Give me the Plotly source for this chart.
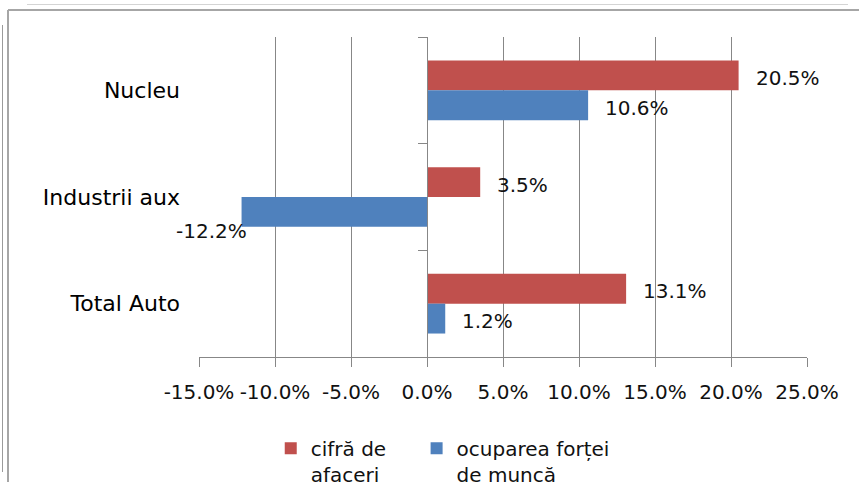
import plotly.graph_objects as go

categories = ["Nucleu", "Industrii aux", "Total Auto"]
cifra_afaceri = [20.5, 3.5, 13.1]
ocuparea_fortei = [10.6, -12.2, 1.2]
series_names = ["cifră de" + "\u00a0" * 4 + "<br>afaceri", "ocuparea forței<br>de muncă"]
x_tick_vals = [-15, -10, -5, 0, 5, 10, 15, 20, 25]
x_tick_labels = ["-15.0%", "-10.0%", "-5.0%", "0.0%", "5.0%", "10.0%", "15.0%", "20.0%", "25.0%"]

RED = "#C0504D"
BLUE = "#4F81BD"
GRID = "#878787"
FONT = "DejaVu Sans"
BARGAP = 0.44

fig = go.Figure()
series = [(series_names[0], cifra_afaceri, RED), (series_names[1], ocuparea_fortei, BLUE)]
for name, vals, col in series:
    fig.add_trace(go.Bar(
        name=name, y=categories, x=vals, orientation="h",
        marker=dict(color=col, line=dict(width=0)),
        hoverinfo="skip",
    ))

# invisible trace to carry the zero-position axis
fig.add_trace(go.Scatter(x=[0], y=[0], yaxis="y2", mode="markers",
                         marker=dict(opacity=0), showlegend=False, hoverinfo="skip"))

# data labels
half = (1 - BARGAP) / 4
annotations = []
for ti, (name, vals, col) in enumerate(series):
    off = -half if ti == 0 else half
    for j, v in enumerate(vals):
        txt = f"{v:.1f}%"
        if v >= 0:
            annotations.append(dict(x=v, y=j + off, xref="x", yref="y", text=txt,
                                    showarrow=False, xanchor="left", xshift=15, yshift=-2.5,
                                    font=dict(family=FONT, size=20, color="#111111")))
        else:
            annotations.append(dict(x=v, y=j + off, xref="x", yref="y", text=txt,
                                    showarrow=False, xanchor="right", xshift=7, yshift=-19,
                                    font=dict(family=FONT, size=20, color="#111111")))

shapes = [
    # outer chart border (left & top)
    dict(type="line", xref="paper", yref="paper",
         x0=(8 - 199) / 608, x1=(8 - 199) / 608, y0=(357 - 10) / 320, y1=(357 - 490) / 320,
         line=dict(color="#a6a6a6", width=2)),
    dict(type="line", xref="paper", yref="paper",
         x0=(8 - 199) / 608, x1=(870 - 199) / 608, y0=(357 - 10) / 320, y1=(357 - 10) / 320,
         line=dict(color="#a6a6a6", width=2)),
    # faint page lines
    dict(type="line", xref="paper", yref="paper",
         x0=(27 - 199) / 608, x1=(848 - 199) / 608, y0=(357 - 4.5) / 320, y1=(357 - 4.5) / 320,
         line=dict(color="#d4d4d4", width=1)),
    dict(type="line", xref="paper", yref="paper",
         x0=(2.5 - 199) / 608, x1=(2.5 - 199) / 608, y0=(357 - 25) / 320, y1=(357 - 472) / 320,
         line=dict(color="#9a9a9a", width=1)),
]

fig.update_layout(
    width=859, height=482,
    margin=dict(l=199, r=52, t=37, b=125, autoexpand=False),
    paper_bgcolor="white", plot_bgcolor="white",
    barmode="group", bargap=BARGAP, bargroupgap=0,
    font=dict(family=FONT, size=20, color="#000000"),
    xaxis=dict(range=[-15, 25], tickvals=x_tick_vals, ticktext=x_tick_labels,
               showgrid=True, gridcolor=GRID, gridwidth=1.3,
               zeroline=False, showline=True, linecolor=GRID, linewidth=1.3,
               ticks="outside", ticklen=9, tickcolor=GRID, tickwidth=1.3,
               ticklabelstandoff=8,
               tickfont=dict(family=FONT, size=20, color="#111111")),
    yaxis=dict(type="category", categoryorder="array", categoryarray=categories,
               range=[2.5, -0.5], showgrid=False, zeroline=False, showline=False,
               ticks="", ticklabelstandoff=18,
               tickfont=dict(family=FONT, size=22, color="#000000")),
    yaxis2=dict(overlaying="y", anchor="free", position=0.375, side="left",
                range=[2.5, -0.5], tickvals=[-0.5, 0.5, 1.5, 2.5],
                showticklabels=False, showgrid=False, zeroline=False,
                showline=True, linecolor=GRID, linewidth=1.3,
                ticks="outside", ticklen=9, tickcolor=GRID, tickwidth=1.3),
    legend=dict(orientation="h", x=0.118, xanchor="left", y=-0.224, yanchor="top",
                valign="top", itemwidth=30, traceorder="normal",
                font=dict(family=FONT, size=20, color="#111111")),
    annotations=annotations,
    shapes=shapes,
    showlegend=True,
)

fig.write_html("out.html", config={"displayModeBar": False},
               post_script="document.body.style.margin='0px';document.body.style.overflow='hidden';")
